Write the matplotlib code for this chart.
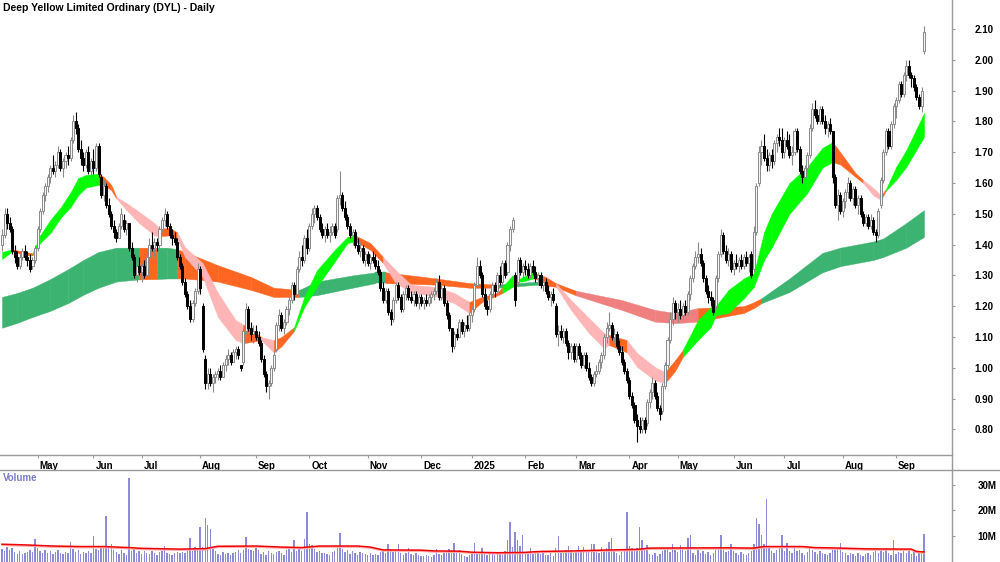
import numpy as np
import matplotlib.pyplot as plt
from matplotlib.lines import Line2D
from matplotlib.transforms import ScaledTranslation

plt.rcParams['font.family'] = ['Liberation Sans', 'DejaVu Sans']

# daily prices in cents, Apr 2024 .. Sep 2025 (one line per month)
opens = [
    140, 143, 150, 147, 145, 138, 136, 133, 136, 138, 136, 135, 133, 135,
    139, 145, 151, 156, 159, 162, 165, 164, 166, 170, 165, 167, 169, 168, 174, 180, 178, 171, 168, 166, 170, 164,
    167, 165, 172, 162, 156, 159, 153, 150, 146, 144, 142, 146, 148, 145, 147, 139, 136, 130, 133,
    131, 133, 130, 136, 140, 139, 141, 140, 145, 148, 150, 146, 143, 142, 141, 136, 133, 128, 124, 120, 116, 121, 125,
    132, 120, 103, 95, 98, 95, 97, 98, 99, 97, 101, 103, 104, 102, 105, 106, 101, 102, 112, 119, 113, 111,
    112, 110, 108, 103, 98, 94, 95, 100, 106, 114, 117, 113, 115, 119, 122, 127, 124, 132, 136, 135, 142,
    139, 146, 150, 152, 149, 145, 143, 145, 143, 144, 146, 145, 155, 156, 152, 149, 146, 143, 144, 140, 138, 139, 135,
    137, 134, 136, 135, 133, 131, 126, 122, 125, 118, 116, 122, 127, 123, 119, 124, 126, 123, 122, 124, 121,
    123, 121, 122, 121, 123, 124, 125, 128, 123, 126, 121, 117, 113, 107, 111, 110, 115, 112, 114, 113,
    117, 119, 127, 133, 130, 124, 120, 119, 124, 127, 125, 130, 128, 134, 131, 140, 145, 130, 128, 135, 131,
    133, 132, 130, 133, 131, 129, 130, 127, 128, 125, 123, 124, 120, 111, 112, 110, 112, 108, 105, 107,
    103, 107, 104, 101, 104, 100, 97, 95, 98, 99, 102, 104, 110, 113, 114, 110, 111, 107, 105, 102, 99,
    96, 91, 88, 83, 81, 80, 83, 82, 89, 92, 95, 91, 87, 86, 94, 101, 109, 116, 121,
    118, 119, 117, 120, 118, 124, 129, 133, 136, 137, 134, 129, 125, 123, 122, 120, 129, 137, 143, 138, 135, 137,
    132, 134, 133, 135, 133, 136, 134, 137, 132, 144, 160, 170, 172, 168, 166, 169, 167, 173, 175, 174,
    170, 174, 172, 169, 170, 177, 171, 164, 162, 165, 169, 178, 184, 182, 180, 184, 180, 178, 179, 177, 162, 153, 156,
    151, 154, 157, 160, 155, 158, 153, 155, 150, 147, 149, 146, 148, 144, 143, 153, 161, 170, 177, 172, 179,
    185, 187, 192, 189, 195, 198, 195, 194, 191, 188, 185, 203,
]
highs = [
    145, 152, 152, 149, 146, 140, 138, 137, 139, 140, 138, 137, 136, 140,
    146, 152, 157, 160, 163, 166, 169, 167, 172, 171, 168, 170, 172, 175, 182, 183, 179, 174, 170, 171, 172, 168,
    171, 173, 173, 163, 161, 160, 155, 151, 148, 145, 147, 152, 150, 148, 147, 141, 137, 135, 136,
    134, 135, 137, 142, 144, 142, 142, 146, 149, 152, 151, 147, 145, 144, 142, 137, 134, 129, 125, 122, 122, 126, 134,
    133, 121, 104, 100, 100, 98, 99, 100, 101, 102, 104, 106, 105, 106, 107, 107, 101, 113, 121, 120, 115, 114,
    114, 112, 109, 104, 99, 96, 101, 105, 115, 119, 118, 116, 120, 124, 128, 128, 133, 138, 140, 143, 145,
    147, 152, 153, 153, 150, 147, 146, 147, 146, 147, 147, 156, 164, 157, 154, 150, 147, 145, 145, 142, 141, 140, 138,
    138, 137, 138, 137, 135, 132, 128, 126, 126, 119, 123, 128, 128, 124, 125, 127, 127, 125, 125, 125, 124,
    124, 123, 124, 124, 125, 126, 129, 130, 127, 127, 122, 118, 113, 112, 113, 116, 116, 115, 117, 118,
    120, 128, 136, 135, 131, 126, 122, 125, 128, 128, 131, 133, 135, 135, 141, 146, 149, 131, 136, 136, 134,
    135, 134, 134, 135, 133, 131, 131, 129, 129, 127, 125, 126, 121, 114, 114, 113, 113, 109, 108, 108,
    108, 108, 105, 105, 105, 102, 98, 99, 101, 103, 105, 111, 115, 118, 115, 113, 112, 109, 107, 103, 100,
    97, 92, 89, 85, 84, 84, 84, 90, 93, 97, 96, 92, 88, 95, 102, 110, 118, 123, 122,
    121, 122, 121, 122, 125, 130, 134, 138, 141, 139, 135, 130, 127, 125, 123, 130, 138, 145, 144, 140, 139, 138,
    135, 137, 136, 137, 137, 138, 137, 138, 146, 160, 172, 174, 176, 171, 170, 171, 174, 176, 178, 178,
    175, 177, 176, 172, 178, 178, 172, 166, 166, 170, 179, 186, 187, 184, 185, 185, 182, 180, 181, 177, 163, 158, 157,
    155, 158, 162, 161, 159, 159, 156, 156, 151, 150, 150, 150, 149, 145, 152, 162, 171, 178, 178, 180, 186,
    188, 193, 193, 196, 200, 200, 196, 195, 192, 189, 191, 211,
]
lows = [
    138, 142, 145, 144, 137, 134, 132, 132, 135, 135, 133, 131, 132, 134,
    138, 144, 150, 154, 157, 160, 163, 162, 165, 164, 162, 165, 166, 167, 173, 176, 170, 166, 164, 165, 163, 162,
    163, 164, 162, 155, 154, 152, 149, 145, 142, 141, 142, 145, 144, 143, 138, 135, 129, 128, 130,
    128, 129, 129, 135, 138, 136, 138, 139, 144, 146, 145, 142, 140, 140, 135, 132, 127, 123, 119, 115, 115, 120, 124,
    124, 105, 93, 93, 94, 92, 95, 96, 96, 97, 99, 101, 101, 102, 103, 103, 99, 101, 111, 112, 109, 108,
    109, 107, 102, 97, 92, 90, 94, 99, 105, 112, 112, 111, 114, 117, 121, 122, 123, 131, 133, 134, 137,
    138, 145, 147, 148, 144, 142, 141, 142, 141, 143, 142, 144, 153, 151, 148, 145, 142, 140, 139, 137, 136, 134, 133,
    133, 132, 134, 132, 130, 125, 121, 121, 117, 114, 115, 121, 122, 118, 118, 122, 122, 121, 120, 120, 119,
    120, 119, 120, 120, 121, 122, 124, 122, 122, 120, 116, 112, 105, 106, 109, 110, 111, 110, 112, 112,
    115, 118, 126, 129, 123, 119, 117, 118, 123, 123, 124, 127, 127, 129, 130, 138, 144, 120, 127, 130, 129,
    130, 129, 129, 130, 128, 127, 126, 125, 124, 122, 120, 121, 110, 107, 109, 108, 107, 103, 103, 102,
    102, 103, 100, 100, 99, 96, 94, 94, 97, 98, 100, 103, 108, 112, 109, 108, 106, 104, 101, 98, 95,
    90, 87, 82, 76, 79, 79, 79, 81, 87, 90, 90, 86, 83, 85, 93, 100, 108, 114, 116,
    115, 116, 116, 117, 117, 122, 128, 132, 134, 133, 128, 124, 121, 120, 117, 119, 128, 136, 137, 134, 133, 131,
    130, 132, 131, 132, 132, 133, 131, 129, 131, 143, 159, 166, 167, 164, 164, 165, 166, 170, 172, 168,
    168, 171, 168, 166, 169, 170, 163, 160, 161, 164, 168, 177, 181, 179, 179, 179, 176, 175, 176, 160, 152, 148, 150,
    149, 152, 155, 154, 153, 152, 150, 149, 146, 146, 145, 145, 143, 141, 142, 152, 160, 169, 171, 171, 178,
    181, 186, 188, 188, 193, 194, 191, 190, 187, 184, 183, 202,
]
closes = [
    143, 150, 147, 145, 138, 136, 133, 136, 138, 136, 135, 132, 135, 139,
    145, 151, 156, 159, 162, 165, 164, 166, 170, 165, 167, 169, 168, 174, 180, 178, 171, 168, 166, 170, 164, 167,
    165, 172, 163, 156, 159, 153, 150, 146, 144, 142, 146, 150, 145, 147, 139, 136, 130, 133, 131,
    133, 130, 136, 140, 139, 141, 140, 145, 148, 150, 146, 143, 142, 141, 136, 133, 128, 124, 120, 116, 121, 125, 132,
    126, 106, 95, 98, 95, 97, 98, 99, 97, 101, 103, 104, 102, 105, 106, 104, 100, 112, 119, 113, 111, 112,
    110, 108, 103, 98, 94, 95, 100, 104, 114, 117, 113, 115, 119, 122, 127, 124, 132, 136, 135, 142, 139,
    146, 150, 152, 149, 145, 143, 145, 143, 144, 146, 143, 155, 156, 152, 149, 146, 143, 144, 140, 138, 139, 135, 137,
    134, 136, 135, 133, 131, 126, 122, 125, 118, 116, 122, 127, 123, 119, 124, 126, 123, 122, 124, 121, 123,
    121, 122, 121, 123, 124, 125, 128, 123, 126, 121, 117, 113, 107, 111, 110, 115, 112, 114, 113, 117,
    119, 127, 133, 130, 124, 120, 119, 124, 127, 125, 130, 128, 134, 130, 140, 145, 148, 122, 135, 131, 133,
    132, 130, 133, 131, 129, 130, 127, 128, 125, 123, 124, 122, 111, 112, 110, 112, 108, 105, 107, 103,
    107, 104, 101, 104, 100, 97, 95, 98, 99, 102, 104, 110, 113, 114, 110, 111, 107, 105, 102, 99, 96,
    91, 88, 83, 81, 80, 83, 80, 89, 92, 95, 91, 87, 85, 94, 101, 109, 116, 121, 118,
    119, 117, 120, 118, 124, 129, 133, 136, 137, 134, 129, 125, 123, 122, 118, 129, 137, 143, 138, 135, 137, 132,
    134, 133, 135, 133, 136, 134, 136, 130, 144, 159, 170, 172, 168, 166, 169, 167, 173, 175, 174, 170,
    174, 172, 169, 170, 177, 171, 164, 162, 165, 169, 178, 184, 182, 180, 184, 180, 178, 179, 177, 162, 153, 156, 151,
    154, 157, 160, 155, 158, 153, 155, 150, 147, 149, 146, 148, 144, 143, 151, 161, 170, 177, 172, 179, 185,
    187, 192, 189, 195, 198, 195, 194, 191, 188, 185, 190, 209,
]

# daily volume, millions
volume = [
    5.2, 4.1, 5.8, 4.6, 5.5, 3.9, 3.2, 4.4, 3.1, 3.6, 4.0, 4.8, 3.9, 8.9,
    5.6, 4.2, 3.5, 4.8, 3.4, 4.1, 3.2, 3.8, 4.5, 3.6, 3.1, 4.0, 3.3, 7.8, 4.9, 3.7, 4.6, 3.2, 3.9, 3.5, 4.4, 3.6,
    10.0, 5.2, 4.8, 5.5, 5.6, 17.8, 6.0, 7.0, 4.6, 3.9, 3.1, 4.5, 3.3, 2.8, 32.6, 4.2, 5.0, 3.6, 4.1,
    3.2, 4.3, 3.5, 3.0, 4.1, 3.4, 2.9, 3.8, 4.4, 6.3, 3.6, 3.1, 2.7, 3.5, 3.9, 3.3, 4.0, 3.4, 4.7, 9.3, 4.4, 6.0, 4.9,
    13.6, 5.8, 17.0, 14.3, 12.8, 5.4, 4.1, 3.2, 2.8, 3.9, 3.1, 3.6, 2.6, 3.3, 3.8, 4.5, 3.6, 4.8, 9.7, 5.1, 4.7, 4.2,
    6.0, 4.6, 3.2, 3.9, 2.8, 4.4, 3.5, 3.1, 3.8, 4.2, 3.6, 2.9, 4.6, 5.2, 4.0, 8.5, 4.1, 6.0, 4.4, 9.0, 19.4,
    7.0, 6.6, 5.2, 3.9, 4.1, 3.4, 3.6, 3.0, 2.9, 3.7, 4.2, 6.0, 11.2, 5.1, 3.8, 4.6, 3.2, 4.1, 3.3, 2.8, 3.9, 3.4, 3.0,
    2.8, 3.5, 2.6, 3.2, 2.9, 3.8, 4.2, 3.4, 7.0, 4.6, 3.8, 4.1, 7.0, 3.6, 2.9, 3.3, 5.5, 3.1, 2.7, 3.4, 2.9,
    2.5, 2.2, 2.8, 2.4, 2.1, 2.6, 5.0, 3.2, 2.7, 3.3, 4.4, 5.2, 4.6, 7.5, 3.8, 4.6, 3.1, 2.4, 2.0, 2.7,
    3.1, 7.5, 3.8, 3.4, 5.5, 3.0, 2.8, 3.3, 3.6, 2.9, 3.4, 3.1, 2.8, 4.2, 8.5, 15.5, 6.0, 11.6, 8.7, 6.3, 10.5,
    4.0, 3.6, 5.6, 3.2, 3.8, 4.1, 3.0, 3.5, 2.6, 2.9, 3.3, 2.5, 5.6, 10.2, 4.1, 3.6, 4.6, 6.3, 4.2, 3.4,
    3.9, 6.3, 4.5, 5.8, 3.7, 4.2, 7.0, 7.0, 4.4, 3.5, 6.0, 4.1, 5.4, 7.7, 9.2, 4.3, 3.6, 2.8, 3.9, 4.6, 19.3,
    6.2, 5.3, 4.8, 5.6, 13.5, 8.7, 4.9, 6.6, 3.1, 2.8, 3.4, 2.4, 3.0, 4.2, 4.6, 5.4, 3.9, 7.0, 4.5,
    3.8, 6.6, 5.2, 4.1, 9.2, 10.3, 3.4, 2.9, 4.8, 3.6, 4.4, 3.2, 3.9, 2.7, 3.3, 4.5, 5.0, 10.3, 4.6, 3.8, 4.2, 6.8,
    4.1, 3.5, 2.9, 3.8, 3.2, 2.6, 3.4, 4.3, 6.8, 17.0, 14.7, 10.5, 7.0, 24.4, 5.5, 4.2, 3.6, 4.8, 5.9, 10.3,
    4.2, 7.5, 4.4, 3.6, 5.3, 4.1, 4.8, 3.5, 2.9, 3.7, 5.1, 4.6, 3.8, 3.2, 4.4, 3.6, 3.1, 2.8, 3.5, 4.9, 4.5, 5.2, 7.5,
    3.9, 3.4, 2.8, 3.6, 3.0, 2.5, 3.3, 2.9, 2.4, 3.1, 3.5, 2.7, 3.8, 4.4, 3.6, 4.5, 3.9, 5.0, 3.6, 2.8, 8.7,
    3.2, 3.8, 3.5, 4.2, 3.6, 4.4, 3.1, 4.3, 2.5, 3.6, 3.3, 10.9,
]

# volume average line (millions), read at sample bars
vol_ma_idx = [0, 10, 20, 30, 40, 50, 55, 60, 70, 80, 85, 100, 110, 118, 125, 140, 145, 150, 165, 170,
              180, 185, 195, 205, 212, 225, 236, 250, 255, 285, 296, 300, 315, 320, 330, 340, 358, 360, 363]
vol_ma_val = [6.9, 6.6, 6.2, 6.0, 6.0, 5.6, 5.3, 5.2, 5.0, 5.2, 6.1, 6.2, 5.8, 5.6, 6.2, 6.2, 5.8, 4.7, 4.6, 4.3,
              4.2, 3.8, 3.6, 3.7, 4.1, 4.3, 4.6, 4.9, 5.4, 5.5, 5.4, 6.0, 6.0, 5.6, 5.4, 5.1, 5.0, 4.1, 3.9]

# fast ribbon edges (g = up, o = mixed, p = down)
fast_idx = [0, 4, 9, 12, 15, 19, 23, 27, 30, 33,
            38, 40, 43, 45, 49, 54, 60, 62, 66, 69,
            72, 79, 85, 92, 95, 99, 102, 107, 110, 115,
            119, 124, 131, 136, 139, 145, 150, 155, 161, 171,
            178, 184, 189, 195, 197, 201, 203, 205, 209, 214,
            218, 224, 231, 237, 239, 246, 250, 257, 261, 265,
            268, 274, 279, 281, 286, 292, 296, 300, 303, 310,
            317, 323, 327, 330, 336, 339, 343, 346, 348, 352,
            356, 363]
fast_hi = [1.376, 1.385, 1.376, 1.372, 1.43, 1.48, 1.52, 1.57, 1.616, 1.626,
           1.63, 1.62, 1.594, 1.555, 1.535, 1.506, 1.47, 1.452, 1.454, 1.44,
           1.392, 1.34, 1.243, 1.155, 1.14, 1.12, 1.10, 1.09, 1.10, 1.132,
           1.23, 1.317, 1.383, 1.425, 1.43, 1.405, 1.36, 1.317, 1.27, 1.262,
           1.243, 1.214, 1.23, 1.243, 1.263, 1.30, 1.285, 1.295, 1.31, 1.295,
           1.275, 1.22, 1.162, 1.113, 1.107, 1.09, 1.048, 1.003, 0.986, 1.025,
           1.058, 1.155, 1.197, 1.20, 1.253, 1.29, 1.307, 1.44, 1.50, 1.60,
           1.652, 1.714, 1.733, 1.70, 1.632, 1.61, 1.584, 1.56, 1.58, 1.652,
           1.707, 1.827]
fast_lo = [1.353, 1.378, 1.366, 1.365, 1.405, 1.437, 1.486, 1.522, 1.56, 1.585,
           1.594, 1.594, 1.577, 1.55, 1.512, 1.47, 1.43, 1.427, 1.43, 1.42,
           1.36, 1.295, 1.165, 1.09, 1.08, 1.085, 1.09, 1.05, 1.07, 1.12,
           1.197, 1.263, 1.345, 1.405, 1.41, 1.383, 1.34, 1.275, 1.245, 1.232,
           1.21, 1.178, 1.214, 1.235, 1.243, 1.263, 1.28, 1.28, 1.29, 1.28,
           1.265, 1.188, 1.113, 1.064, 1.074, 1.05, 1.003, 0.96, 0.95, 0.99,
           1.035, 1.09, 1.132, 1.17, 1.178, 1.225, 1.263, 1.35, 1.39, 1.50,
           1.567, 1.65, 1.668, 1.66, 1.62, 1.60, 1.56, 1.545, 1.575, 1.61,
           1.652, 1.75]
fast_state = ("googgggggg" "oooppppoop" "ppppoopoog" "ggggoopppp" "poooggggoo"
              "ppppopppoo" "gggggggggg" "ggoooppogg" "gg")

# slow ribbon edges (G = up, O = mixed, R = down)
slow_idx = [0, 6, 12, 19, 26, 32, 38, 45, 51, 54, 61, 65, 69,
            72, 85, 98, 107, 117, 124, 138, 147, 151, 171,
            184, 195, 211, 218, 226, 244, 257, 265, 274, 292,
            296, 299, 310, 323, 330, 343, 347, 356, 363]
slow_hi = [1.23, 1.243, 1.26, 1.288, 1.32, 1.35, 1.376, 1.39, 1.39, 1.39, 1.39, 1.39, 1.385,
           1.376, 1.333, 1.295, 1.26, 1.253, 1.28, 1.30, 1.31, 1.31, 1.29,
           1.275, 1.27, 1.28, 1.275, 1.25, 1.22, 1.188, 1.178, 1.194, 1.20,
           1.213, 1.226, 1.29, 1.373, 1.39, 1.41, 1.42, 1.47, 1.512]
slow_lo = [1.13, 1.146, 1.165, 1.185, 1.21, 1.237, 1.26, 1.28, 1.285, 1.287, 1.288, 1.29, 1.29,
           1.29, 1.28, 1.253, 1.23, 1.23, 1.236, 1.26, 1.275, 1.275, 1.27,
           1.26, 1.26, 1.27, 1.263, 1.235, 1.188, 1.15, 1.145, 1.15, 1.178,
           1.194, 1.21, 1.246, 1.31, 1.33, 1.35, 1.36, 1.39, 1.425]
slow_state = "GGGGGGGGGOGGO" "OOOOGGGGOO" "OGOORRRROO" "OGGGGGGGG"

month_idx = [14, 36, 55, 78, 100, 121, 144, 165, 185, 206, 226, 247, 266, 288, 308, 331, 352]
month_lbl = ['May', 'Jun', 'Jul', 'Aug', 'Sep', 'Oct', 'Nov', 'Dec', '2025',
             'Feb', 'Mar', 'Apr', 'May', 'Jun', 'Jul', 'Aug', 'Sep']

ribbon_colors = {'g': '#00ff00', 'o': '#ff6622', 'p': '#ffb5b5',
                 'G': '#3cb371', 'O': '#ff6622', 'R': '#f08080'}
frame = '#999999'

o = np.array(opens) / 100
c = np.array(closes) / 100
h = np.maximum(np.array(highs) / 100, np.maximum(o, c))
l = np.minimum(np.array(lows) / 100, np.minimum(o, c))
x = np.arange(len(c))
vol = np.array(volume)

fig = plt.figure(figsize=(10, 5.62), dpi=100)
ax = fig.add_axes([0, 1 - 455 / 562, 0.952, 455 / 562])
axv = fig.add_axes([0, 0, 0.952, 92 / 562], sharex=ax)


def draw_ribbon(axis, idx, hi, lo, state, z):
    for k in range(len(idx) - 1):
        col = ribbon_colors[state[k]]
        axis.fill_between(idx[k:k + 2], lo[k:k + 2], hi[k:k + 2],
                          facecolor=col, edgecolor=col, lw=0.3, zorder=z)


draw_ribbon(ax, slow_idx, slow_hi, slow_lo, slow_state, 1)
draw_ribbon(ax, fast_idx, fast_hi, fast_lo, fast_state, 2)

# candles: hollow grey when up, black when down
up = c >= o
ax.vlines(x[up], l[up], h[up], color='#8a8a8a', lw=0.8, zorder=3)
ax.vlines(x[~up], l[~up], h[~up], color='black', lw=0.8, zorder=3)
ax.bar(x[up], (c - o)[up], bottom=o[up], width=0.8, color='#f4f4f4',
       edgecolor='#8a8a8a', lw=0.7, zorder=4)
ax.bar(x[~up], (o - c)[~up], bottom=c[~up], width=0.8, color='black',
       edgecolor='black', lw=0.7, zorder=4)

ax.set_xlim(-0.79, 374.0)
ax.set_ylim(0.717, 2.194)
ax.yaxis.tick_right()
yt = np.round(np.arange(0.8, 2.101, 0.1), 2)
ax.set_yticks(yt)
ax.set_yticklabels(['%.2f' % v for v in yt])
ax.tick_params(axis='y', length=2.2, color=frame, pad=14, labelsize=7)
for t in ax.get_yticklabels():
    t.set_fontweight('bold')

ax.set_xticks(month_idx)
ax.set_xticklabels(month_lbl, ha='left')
ax.tick_params(axis='x', length=2.5, color=frame, pad=1.5, labelsize=7)
shift = ScaledTranslation(2 / 100, 0, fig.dpi_scale_trans)
for t in ax.get_xticklabels():
    t.set_fontweight('bold')
    t.set_transform(t.get_transform() + shift)

for s in ['top', 'left', 'right']:
    ax.spines[s].set_visible(False)
ax.spines['bottom'].set_color(frame)
ax.spines['bottom'].set_linewidth(1.0)

# volume panel
axv.bar(x, vol, width=0.55, color='#8c8cd6', zorder=2)
axv.plot(vol_ma_idx, np.array(vol_ma_val) - 0.45, color='#ffaaaa', lw=1.0, zorder=3)
axv.plot(vol_ma_idx, vol_ma_val, color='#ee0000', lw=1.1, zorder=4)
axv.set_ylim(0, 35.7)
axv.yaxis.tick_right()
axv.set_yticks([10, 20, 30])
axv.set_yticklabels(['10M', '20M', '30M'])
axv.tick_params(axis='y', length=2.2, color=frame, pad=16, labelsize=7)
axv.tick_params(axis='x', bottom=False, labelbottom=False)
for t in axv.get_yticklabels():
    t.set_fontweight('bold')
for s in axv.spines.values():
    s.set_visible(False)

# frame lines: right axis line through both panels, volume panel top across
fig.add_artist(Line2D([0.952, 0.952], [0, 1], color=frame, lw=1.0))
fig.add_artist(Line2D([0, 1], [1 - 470 / 562] * 2, color=frame, lw=1.0))

fig.text(0.003, 1 - 8 / 562, 'Deep Yellow Limited Ordinary (DYL) - Daily',
         fontsize=7.5, fontweight='bold', va='center', ha='left')
fig.text(0.003, 1 - 478 / 562, 'Volume', fontsize=7, fontweight='bold',
         color='#7b7bc4', va='center', ha='left')

fig.savefig('out.png', dpi=100)
